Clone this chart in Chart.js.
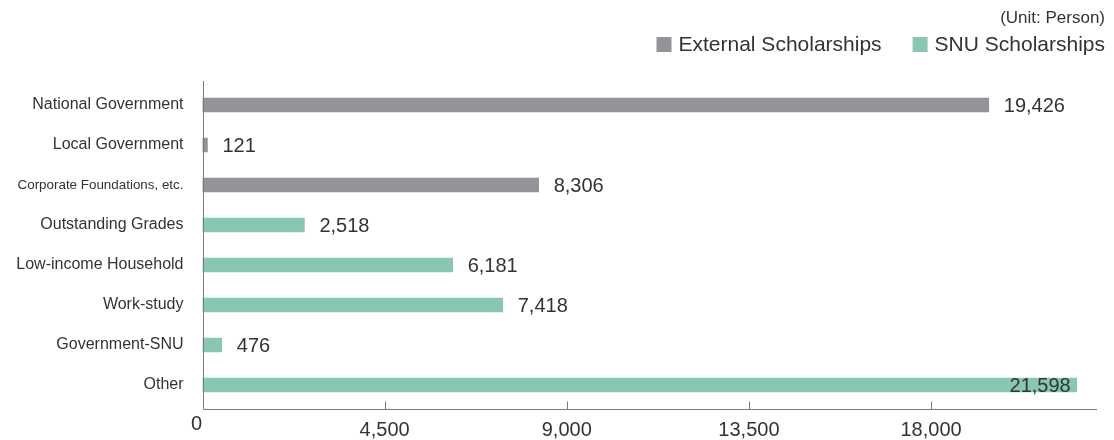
<!DOCTYPE html>
<html>
<head>
<meta charset="utf-8">
<script src="https://cdn.jsdelivr.net/npm/chart.js@4"></script>
<style>
html,body{margin:0;padding:0;background:#fff;}
#wrap{width:1114px;height:440px;position:relative;}
</style>
</head>
<body>
<div id="wrap"><canvas id="c"></canvas></div>
<script>
const categories = ["National Government","Local Government","Corporate Foundations, etc.","Outstanding Grades","Low-income Household","Work-study","Government-SNU","Other"];
const externalValues = [19426,121,8306,null,null,null,null,null];
const snuValues = [null,null,null,2518,6181,7418,476,21598];
const xTickValues = [0,4500,9000,13500,18000];
const seriesNames = ["External Scholarships","SNU Scholarships"];
const seriesColors = ["#939398","#88c8b1"];
const unitText = "(Unit: Person)";

const FONT = "'Liberation Sans', Arial, sans-serif";
const TXT = "#333333";
const AXIS = "#7a7a7a";
const fmt = v => Number(v).toLocaleString('en-US');

const decorPlugin = {
  id: 'decorPlugin',
  afterDatasetsDraw(chart) {
    const ctx = chart.ctx, a = chart.chartArea, xs = chart.scales.x;
    const axisY = Math.round(a.bottom + 4) + 0.5;
    const axisX = Math.round(a.left) + 0.5;
    ctx.save();
    // axes
    ctx.strokeStyle = AXIS;
    ctx.lineWidth = 1;
    ctx.beginPath();
    ctx.moveTo(axisX, a.top - 4);
    ctx.lineTo(axisX, axisY);
    ctx.lineTo(a.right, axisY);
    xTickValues.forEach(v => {
      if (v === 0) return;
      const px = Math.round(xs.getPixelForValue(v)) + 0.5;
      ctx.moveTo(px, axisY);
      ctx.lineTo(px, axisY - 8);
    });
    ctx.stroke();
    // x tick labels
    ctx.fillStyle = TXT;
    ctx.font = "20px " + FONT;
    ctx.textAlign = 'center';
    ctx.textBaseline = 'middle';
    xTickValues.forEach(v => {
      const px = xs.getPixelForValue(v);
      if (v === 0) ctx.fillText(fmt(v), px - 6, axisY + 15);
      else ctx.fillText(fmt(v), px, axisY + 21);
    });
    // value labels
    ctx.font = "20px " + FONT;
    const W = chart.width;
    chart.data.datasets.forEach((ds, di) => {
      const meta = chart.getDatasetMeta(di);
      meta.data.forEach((el, i) => {
        const v = ds.data[i];
        if (v === null || v === undefined) return;
        const s = fmt(v);
        const w = ctx.measureText(s).width;
        if (el.x + 15 + w > W - 2) {
          ctx.textAlign = 'right';
          ctx.fillText(s, el.x - 6, el.y + 1);
        } else {
          ctx.textAlign = 'left';
          ctx.fillText(s, el.x + 15, el.y + 1);
        }
      });
    });
    // unit text
    ctx.font = "17px " + FONT;
    ctx.textAlign = 'right';
    ctx.fillText(unitText, 1105, 18);
    // legend (right aligned)
    ctx.font = "21px " + FONT;
    const items = chart.data.datasets.map(d => ({text: d.label, color: d.backgroundColor}));
    let x = 1105;
    const positions = [];
    for (let i = items.length - 1; i >= 0; i--) {
      const w = ctx.measureText(items[i].text).width;
      const textX = x - w;
      const boxX = textX - 7 - 15;
      positions[i] = {textX, boxX};
      x = boxX - 31;
    }
    ctx.textAlign = 'left';
    items.forEach((it, i) => {
      ctx.fillStyle = it.color;
      ctx.fillRect(positions[i].boxX, 37, 15, 15);
      ctx.fillStyle = TXT;
      ctx.fillText(it.text, positions[i].textX, 45);
    });
    ctx.restore();
  }
};

new Chart(document.getElementById('c'), {
  type: 'bar',
  data: {
    labels: categories,
    datasets: [
      {label: seriesNames[0], data: externalValues, backgroundColor: seriesColors[0], barThickness: 14, grouped: false},
      {label: seriesNames[1], data: snuValues, backgroundColor: seriesColors[1], barThickness: 14, grouped: false}
    ]
  },
  plugins: [decorPlugin],
  options: {
    indexAxis: 'y',
    responsive: true,
    maintainAspectRatio: false,
    animation: false,
    layout: {padding: {left: 0, right: 17, top: 85, bottom: 35}},
    plugins: {
      tooltip: {enabled: false},
      title: {display: false},
      legend: {display: false}
    },
    scales: {
      x: {
        type: 'linear', min: 0, max: 22100,
        afterBuildTicks: (s) => { s.ticks = xTickValues.map(v => ({value: v})); },
        afterFit: (s) => { s.height = 0; },
        grid: {display: false, drawTicks: false},
        border: {display: false},
        ticks: {display: false}
      },
      y: {
        afterFit: (s) => { s.width = 202.5; },
        grid: {display: false, drawTicks: false},
        border: {display: false},
        ticks: {
          color: TXT, padding: 19,
          font: (c) => ({family: FONT, size: c.index === 2 ? 13.4 : 16})
        }
      }
    }
  }
});
</script>
</body>
</html>
